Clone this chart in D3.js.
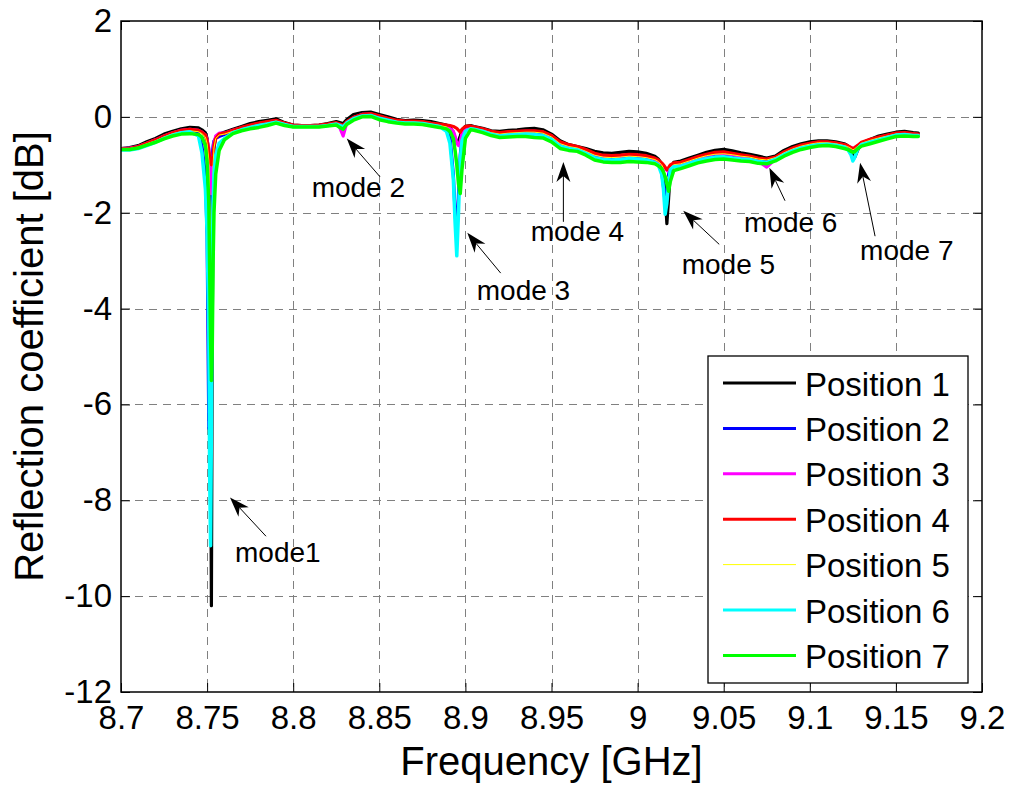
<!DOCTYPE html>
<html><head><meta charset="utf-8">
<script src="https://cdn.jsdelivr.net/npm/d3@7"></script>
<style>
body{margin:0;background:#fff;}
svg{display:block;}
text{font-family:"Liberation Sans",Arial,Helvetica,sans-serif;fill:#000;}
</style>
</head><body>
<svg id="chart" width="1014" height="789"></svg>
<script>
// ---------------- DATA ----------------
const freqGHz = [
  8.700,8.705,8.710,8.715,8.720,8.725,8.730,8.735,8.740,8.745,
  8.747,8.749,8.750,8.751,8.7515,8.752,8.7525,8.753,8.7535,8.754,8.755,8.757,
  8.760,8.765,8.770,8.775,8.780,8.785,8.790,8.795,8.800,8.805,8.810,8.815,8.820,8.825,
  8.827,8.829,8.831,
  8.835,8.840,8.845,8.850,8.855,8.860,8.865,8.870,8.875,8.880,8.885,
  8.889,8.891,8.893,8.894,8.895,8.896,8.897,8.898,8.900,8.903,
  8.905,8.910,8.915,8.920,8.925,8.930,8.935,8.940,8.945,8.950,8.955,8.960,8.965,8.970,8.975,8.980,8.985,8.990,8.995,9.000,9.005,9.010,
  9.012,9.014,9.015,9.016,9.017,9.018,9.019,9.021,
  9.025,9.030,9.035,9.040,9.045,9.050,9.055,9.060,9.065,9.070,9.075,9.080,9.085,9.090,9.095,9.100,9.105,9.110,9.115,9.120,
  9.122,9.124,9.125,9.126,9.128,
  9.130,9.135,9.140,9.145,9.150,9.155,9.160,9.163
];

const position1 = [
  -0.66,-0.64,-0.60,-0.52,-0.45,-0.36,-0.30,-0.25,-0.22,-0.23,
  -0.27,-0.33,-0.45,-0.80,-2.00,-6.00,-10.20,-4.50,-1.30,-0.65,-0.42,-0.36,
  -0.32,-0.26,-0.20,-0.14,-0.10,-0.07,-0.04,-0.12,-0.17,-0.18,-0.18,-0.17,-0.14,-0.10,
  -0.12,-0.14,-0.06,
  0.05,0.09,0.10,0.05,0.00,-0.05,-0.08,-0.07,-0.08,-0.10,-0.14,
  -0.17,-0.22,-0.32,-0.45,-0.55,-0.50,-0.40,-0.28,-0.20,-0.18,
  -0.20,-0.24,-0.29,-0.30,-0.28,-0.27,-0.25,-0.24,-0.27,-0.36,-0.50,-0.58,-0.62,-0.66,-0.72,-0.75,-0.76,-0.74,-0.72,-0.73,-0.76,-0.82,
  -0.88,-0.98,-1.15,-1.60,-2.23,-1.70,-1.15,-0.95,
  -0.92,-0.86,-0.80,-0.74,-0.70,-0.68,-0.71,-0.75,-0.78,-0.82,-0.86,-0.82,-0.70,-0.62,-0.56,-0.52,-0.50,-0.50,-0.52,-0.56,
  -0.60,-0.70,-0.80,-0.85,-0.68,
  -0.55,-0.47,-0.40,-0.36,-0.32,-0.30,-0.33,-0.34
];

const position2 = [
  -0.67,-0.66,-0.63,-0.56,-0.49,-0.41,-0.35,-0.30,-0.29,-0.36,
  -0.60,-1.20,-2.50,-6.50,-4.00,-2.00,-1.20,-0.80,-0.60,-0.50,-0.45,-0.41,
  -0.37,-0.30,-0.25,-0.20,-0.16,-0.13,-0.09,-0.15,-0.19,-0.20,-0.20,-0.19,-0.17,-0.14,
  -0.17,-0.20,-0.11,
  -0.02,0.04,0.05,0.00,-0.05,-0.09,-0.11,-0.11,-0.12,-0.15,-0.18,
  -0.24,-0.40,-1.20,-2.00,-2.50,-1.60,-0.80,-0.45,-0.28,-0.23,
  -0.24,-0.28,-0.34,-0.37,-0.35,-0.34,-0.33,-0.33,-0.35,-0.44,-0.58,-0.64,-0.67,-0.73,-0.81,-0.85,-0.86,-0.85,-0.83,-0.84,-0.86,-0.90,
  -0.96,-1.15,-1.45,-1.80,-1.50,-1.20,-1.05,-1.00,
  -0.99,-0.94,-0.88,-0.83,-0.79,-0.78,-0.80,-0.83,-0.85,-0.89,-0.92,-0.87,-0.76,-0.68,-0.62,-0.58,-0.55,-0.55,-0.57,-0.61,
  -0.64,-0.70,-0.74,-0.72,-0.62,
  -0.57,-0.51,-0.45,-0.41,-0.36,-0.35,-0.37,-0.38
];

const position3 = [
  -0.66,-0.65,-0.62,-0.55,-0.48,-0.40,-0.33,-0.28,-0.26,-0.28,
  -0.32,-0.38,-0.48,-0.65,-0.90,-1.30,-1.60,-1.20,-0.80,-0.55,-0.40,-0.34,
  -0.34,-0.28,-0.23,-0.18,-0.14,-0.11,-0.08,-0.14,-0.18,-0.19,-0.19,-0.18,-0.16,-0.14,
  -0.22,-0.40,-0.14,
  -0.02,0.05,0.06,0.01,-0.04,-0.08,-0.10,-0.10,-0.11,-0.14,-0.17,
  -0.20,-0.24,-0.30,-0.40,-0.55,-0.60,-0.50,-0.35,-0.24,-0.21,
  -0.22,-0.26,-0.31,-0.34,-0.32,-0.31,-0.30,-0.30,-0.32,-0.40,-0.54,-0.60,-0.64,-0.70,-0.78,-0.82,-0.83,-0.82,-0.80,-0.81,-0.83,-0.88,
  -0.92,-0.98,-1.02,-1.08,-1.12,-1.10,-1.04,-1.00,
  -0.98,-0.92,-0.86,-0.80,-0.77,-0.76,-0.79,-0.82,-0.85,-0.92,-1.05,-0.88,-0.76,-0.67,-0.61,-0.56,-0.53,-0.53,-0.55,-0.59,
  -0.61,-0.64,-0.66,-0.65,-0.60,
  -0.55,-0.49,-0.43,-0.39,-0.35,-0.34,-0.36,-0.37
];

const position4 = [
  -0.67,-0.66,-0.62,-0.55,-0.48,-0.40,-0.33,-0.28,-0.26,-0.28,
  -0.32,-0.38,-0.50,-0.70,-0.85,-0.95,-1.00,-0.95,-0.80,-0.60,-0.45,-0.36,
  -0.34,-0.28,-0.22,-0.17,-0.13,-0.10,-0.07,-0.13,-0.17,-0.18,-0.18,-0.17,-0.15,-0.12,
  -0.15,-0.18,-0.10,
  -0.01,0.05,0.07,0.02,-0.03,-0.07,-0.09,-0.09,-0.10,-0.13,-0.15,
  -0.17,-0.18,-0.20,-0.22,-0.24,-0.28,-0.32,-0.26,-0.20,-0.19,
  -0.21,-0.25,-0.30,-0.33,-0.31,-0.30,-0.29,-0.29,-0.31,-0.39,-0.52,-0.58,-0.62,-0.68,-0.76,-0.80,-0.81,-0.80,-0.78,-0.79,-0.81,-0.86,
  -0.90,-0.96,-1.00,-1.05,-1.10,-1.06,-1.00,-0.96,
  -0.95,-0.89,-0.83,-0.78,-0.74,-0.73,-0.76,-0.79,-0.82,-0.86,-0.88,-0.84,-0.73,-0.65,-0.59,-0.55,-0.52,-0.52,-0.54,-0.58,
  -0.60,-0.64,-0.66,-0.64,-0.59,
  -0.53,-0.47,-0.42,-0.38,-0.34,-0.33,-0.35,-0.36
];

const position5 = [
  -0.67,-0.66,-0.63,-0.56,-0.50,-0.42,-0.35,-0.31,-0.29,-0.31,
  -0.35,-0.42,-0.55,-0.90,-1.60,-2.40,-2.50,-1.80,-1.00,-0.65,-0.45,-0.38,
  -0.36,-0.30,-0.25,-0.20,-0.16,-0.13,-0.09,-0.15,-0.19,-0.19,-0.19,-0.19,-0.17,-0.14,
  -0.17,-0.20,-0.12,
  -0.03,0.03,0.04,-0.01,-0.06,-0.09,-0.11,-0.11,-0.12,-0.15,-0.18,
  -0.21,-0.26,-0.40,-0.60,-0.90,-1.20,-1.00,-0.60,-0.30,-0.23,
  -0.24,-0.28,-0.33,-0.36,-0.34,-0.33,-0.32,-0.32,-0.34,-0.42,-0.56,-0.62,-0.65,-0.72,-0.80,-0.84,-0.85,-0.84,-0.82,-0.83,-0.85,-0.89,
  -0.93,-1.00,-1.08,-1.20,-1.30,-1.22,-1.06,-1.00,
  -0.98,-0.92,-0.86,-0.81,-0.78,-0.77,-0.79,-0.82,-0.84,-0.88,-0.90,-0.85,-0.75,-0.67,-0.61,-0.57,-0.54,-0.54,-0.56,-0.60,
  -0.62,-0.66,-0.69,-0.67,-0.61,
  -0.55,-0.49,-0.44,-0.40,-0.36,-0.35,-0.37,-0.38
];

const position6 = [
  -0.69,-0.69,-0.66,-0.60,-0.53,-0.45,-0.38,-0.33,-0.31,-0.40,
  -0.75,-1.50,-2.40,-4.50,-7.50,-8.95,-6.50,-3.00,-1.80,-1.20,-0.80,-0.55,
  -0.45,-0.33,-0.27,-0.22,-0.18,-0.15,-0.11,-0.16,-0.20,-0.20,-0.20,-0.20,-0.18,-0.15,
  -0.18,-0.21,-0.13,
  -0.04,0.02,0.03,-0.03,-0.07,-0.11,-0.13,-0.13,-0.14,-0.17,-0.20,
  -0.30,-0.55,-1.30,-2.20,-2.90,-2.00,-0.90,-0.50,-0.30,-0.25,
  -0.26,-0.30,-0.36,-0.40,-0.38,-0.37,-0.36,-0.37,-0.39,-0.47,-0.61,-0.66,-0.69,-0.76,-0.85,-0.89,-0.90,-0.89,-0.87,-0.88,-0.90,-0.95,
  -1.00,-1.20,-1.50,-2.03,-1.80,-1.40,-1.10,-1.04,
  -1.03,-0.97,-0.91,-0.87,-0.84,-0.83,-0.86,-0.88,-0.89,-0.93,-0.95,-0.89,-0.79,-0.71,-0.65,-0.61,-0.58,-0.57,-0.59,-0.63,
  -0.68,-0.80,-0.92,-0.85,-0.66,
  -0.58,-0.53,-0.48,-0.43,-0.38,-0.37,-0.39,-0.39
];

const position7 = [
  -0.68,-0.68,-0.65,-0.59,-0.53,-0.46,-0.40,-0.36,-0.35,-0.37,
  -0.42,-0.60,-0.95,-1.80,-3.20,-4.60,-5.50,-4.80,-3.00,-2.00,-1.20,-0.70,
  -0.48,-0.35,-0.29,-0.25,-0.22,-0.18,-0.13,-0.18,-0.21,-0.21,-0.21,-0.21,-0.19,-0.17,
  -0.22,-0.26,-0.16,
  -0.07,0.00,0.01,-0.06,-0.10,-0.13,-0.15,-0.15,-0.16,-0.19,-0.22,
  -0.25,-0.30,-0.45,-0.70,-1.00,-1.40,-1.60,-1.10,-0.45,-0.27,
  -0.28,-0.33,-0.39,-0.43,-0.42,-0.41,-0.41,-0.43,-0.44,-0.52,-0.66,-0.70,-0.72,-0.80,-0.90,-0.94,-0.95,-0.95,-0.93,-0.94,-0.95,-0.98,
  -1.02,-1.08,-1.15,-1.25,-1.40,-1.55,-1.35,-1.12,
  -1.08,-1.02,-0.96,-0.92,-0.89,-0.88,-0.90,-0.92,-0.93,-0.97,-0.98,-0.92,-0.82,-0.74,-0.68,-0.64,-0.61,-0.60,-0.62,-0.66,
  -0.68,-0.72,-0.74,-0.73,-0.66,
  -0.61,-0.56,-0.51,-0.46,-0.41,-0.40,-0.41,-0.41
];

const seriesNames  = ["Position 1","Position 2","Position 3","Position 4","Position 5","Position 6","Position 7"];
const seriesValues = [position1, position2, position3, position4, position5, position6, position7];
const seriesColors = ["#000000","#0000ff","#ff00ff","#ff0000","#ffff00","#00ffff","#00ff00"];
const seriesWidths = [3.2, 3.2, 3.2, 3.2, 1, 3.5, 3.5];
const legendWidths = [3, 3, 3, 3, 1, 3, 3];

const xTicks = [8.7, 8.75, 8.8, 8.85, 8.9, 8.95, 9.0, 9.05, 9.1, 9.15, 9.2];
const xTickLabels = ["8.7","8.75","8.8","8.85","8.9","8.95","9","9.05","9.1","9.15","9.2"];
const yTicks = [2, 0, -2, -4, -6, -8, -10, -12];
const yTickLabels = ["2","0","-2","-4","-6","-8","-10","-12"];

// annotation anchors in data units [GHz, dB]
const annoLabels = ["mode1","mode 2","mode 3","mode 4","mode 5","mode 6","mode 7"];
const annoTip  = [[8.7633,-7.94],[8.8311,-0.45],[8.9011,-2.42],[8.9569,-0.94],[9.0265,-1.96],[9.0765,-1.06],[9.1292,-0.96]];
const annoTail = [[8.7842,-8.75],[8.8504,-1.25],[8.9205,-3.26],[8.9569,-2.19],[9.0474,-2.66],[9.0856,-1.75],[9.1379,-2.49]];
const annoText = [[8.7662,-9.29],[8.8107,-1.67],[8.9066,-3.83],[8.9379,-2.59],[9.0256,-3.27],[9.0618,-2.40],[9.1292,-2.99]];

// ---------------- CHART ----------------
const W = 1014, H = 789;
const margin = {top: 21, right: 32, bottom: 97, left: 121};
const iw = W - margin.left - margin.right;
const ih = H - margin.top - margin.bottom;

const svg = d3.select("#chart");
svg.append("rect").attr("width", W).attr("height", H).attr("fill", "#fff");
const g = svg.append("g").attr("transform", `translate(${margin.left},${margin.top})`);

const x = d3.scaleLinear().domain([8.7, 9.2]).range([0, iw]);
const y = d3.scaleLinear().domain([-12, 2]).range([ih, 0]);

// grid
const grid = g.append("g").attr("stroke", "#808080").attr("stroke-width", 1).attr("stroke-dasharray", "8,6");
grid.selectAll("line.vx").data(xTicks.slice(1, -1)).join("line")
  .attr("x1", d => Math.round(x(d)) + 0.5).attr("x2", d => Math.round(x(d)) + 0.5)
  .attr("y1", 0).attr("y2", ih);
grid.selectAll("line.hy").data(yTicks.slice(1, -1)).join("line")
  .attr("y1", d => Math.round(y(d)) + 0.5).attr("y2", d => Math.round(y(d)) + 0.5)
  .attr("x1", 0).attr("x2", iw);

// data lines
svg.append("defs").append("clipPath").attr("id", "clip")
  .append("rect").attr("width", iw).attr("height", ih);
const line = d3.line().x(d => x(d[0])).y(d => y(d[1]));
const lines = g.append("g").attr("clip-path", "url(#clip)");
seriesValues.forEach((vals, si) => {
  const pts = freqGHz.map((f, i) => [f, vals[i]]).filter(p => p[1] !== undefined);
  lines.append("path").datum(pts)
    .attr("d", line)
    .attr("fill", "none")
    .attr("stroke", seriesColors[si])
    .attr("stroke-width", seriesWidths[si])
    .attr("stroke-linejoin", "round")
    .attr("stroke-linecap", "round");
});

// axes
const fs = 33;
const xAxis = d3.axisBottom(x).tickValues(xTicks).tickFormat((d, i) => xTickLabels[i])
  .tickSizeInner(-9).tickSizeOuter(0).tickPadding(14);
const gx = g.append("g").attr("transform", `translate(0,${ih})`).call(xAxis);
const yAxis = d3.axisLeft(y).tickValues(yTicks).tickFormat((d, i) => yTickLabels[i])
  .tickSizeInner(-9).tickSizeOuter(0).tickPadding(9);
const gy = g.append("g").call(yAxis);
const gt = g.append("g").call(d3.axisTop(x).tickValues(xTicks).tickFormat("").tickSizeInner(-9).tickSizeOuter(0));
const gr = g.append("g").attr("transform", `translate(${iw},0)`)
  .call(d3.axisRight(y).tickValues(yTicks).tickFormat("").tickSizeInner(-9).tickSizeOuter(0));
[gx, gy, gt, gr].forEach(a => {
  a.select(".domain").remove();
  a.selectAll(".tick line").attr("stroke", "#000").attr("stroke-width", 1);
  a.selectAll(".tick text").attr("font-size", fs).attr("fill", "#000")
    .style("font-family", '"Liberation Sans", Arial, sans-serif');
});

// frame
g.append("rect").attr("x", 0).attr("y", 0).attr("width", iw).attr("height", ih)
  .attr("fill", "none").attr("stroke", "#000").attr("stroke-width", 1.5);

// annotations
const ann = g.append("g");
annoLabels.forEach((lab, i) => {
  const tx = x(annoTail[i][0]), ty = y(annoTail[i][1]);
  const hx = x(annoTip[i][0]), hy = y(annoTip[i][1]);
  const ang = Math.atan2(hy - ty, hx - tx);
  const L = 20, Wd = 7, N = 14;
  ann.append("line").attr("x1", tx).attr("y1", ty)
    .attr("x2", hx - Math.cos(ang) * N).attr("y2", hy - Math.sin(ang) * N)
    .attr("stroke", "#000").attr("stroke-width", 1);
  const pts = [[0, 0], [-L, -Wd], [-N, 0], [-L, Wd]].map(([px, py]) => [
    hx + px * Math.cos(ang) - py * Math.sin(ang),
    hy + px * Math.sin(ang) + py * Math.cos(ang)
  ]);
  ann.append("path").attr("d", "M" + pts.map(p => p.join(",")).join("L") + "Z").attr("fill", "#000");
  ann.append("text").attr("x", x(annoText[i][0])).attr("y", y(annoText[i][1]))
    .attr("font-size", 28).text(lab);
});

// legend
const leg = svg.append("g");
const lx = 708, ly = 356, lw = 260, lh = 327;
leg.append("rect").attr("x", lx).attr("y", ly).attr("width", lw).attr("height", lh)
  .attr("fill", "#fff").attr("stroke", "#000").attr("stroke-width", 1.3);
seriesNames.forEach((nm, i) => {
  const yy = ly + 27 + i * 45.4;
  leg.append("line").attr("x1", lx + 15).attr("x2", lx + 88).attr("y1", yy).attr("y2", yy)
    .attr("stroke", seriesColors[i]).attr("stroke-width", legendWidths[i]);
  leg.append("text").attr("x", lx + 97).attr("y", yy + 12.5).attr("font-size", 33).text(nm);
});

// axis labels
svg.append("text").attr("x", margin.left + iw / 2).attr("y", 775).attr("text-anchor", "middle")
  .attr("font-size", 40).text("Frequency [GHz]");
svg.append("text").attr("transform", `translate(43,${margin.top + ih / 2}) rotate(-90)`)
  .attr("text-anchor", "middle").attr("font-size", 40).text("Reflection coefficient [dB]");
</script>
</body></html>
